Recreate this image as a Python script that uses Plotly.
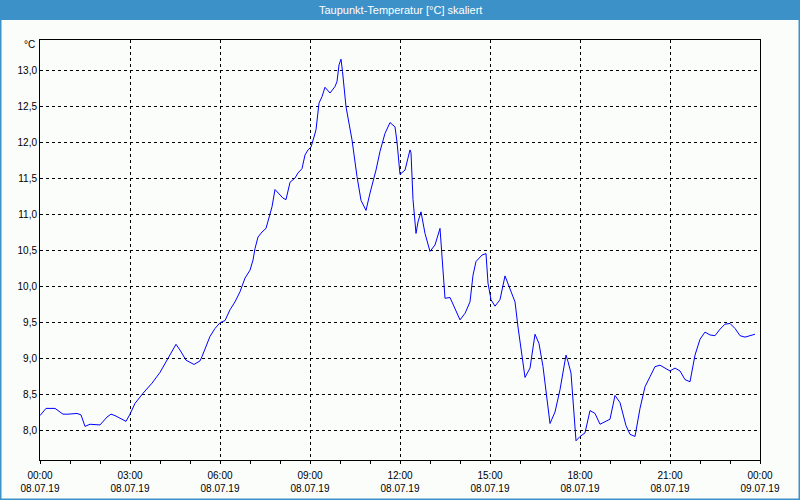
import plotly.graph_objects as go

DAY = "2019-07-08"
times = ["00:00","00:12","00:30","00:46","00:56","01:14","01:22","01:30","01:40","02:00",
         "02:14","02:22","02:30","02:44","02:52","03:00","03:10","03:26","03:44","04:00",
         "04:16","04:32","04:40","04:52","05:08","05:20","05:24","05:34","05:40","05:50",
         "06:00","06:10","06:20","06:30","06:40","06:50","07:00","07:06","07:10","07:16",
         "07:24","07:32","07:38","07:44","07:50","07:56","08:06","08:12","08:20","08:30",
         "08:36","08:44","08:50","08:56","09:02","09:08","09:12","09:18","09:24","09:30",
         "09:40","09:50","09:54","09:58","10:02","10:05","10:12","10:24","10:34","10:42",
         "10:52","11:00","11:12","11:20","11:30","11:40","11:50","11:54","12:00","12:10",
         "12:20","12:22","12:26","12:32","12:36","12:42","12:50","13:00","13:10","13:20",
         "13:24","13:30","13:40","14:00","14:10","14:20","14:26","14:32","14:44","14:52",
         "14:56","15:02","15:10","15:20","15:30","15:40","15:50","15:56","16:04","16:10",
         "16:20","16:30","16:38","16:46","17:00","17:10","17:20","17:32","17:36","17:42",
         "17:52","18:00","18:10","18:20","18:30","18:40","19:00","19:10","19:20","19:32",
         "19:40","19:50","20:00","20:10","20:20","20:30","20:40","20:50","21:00","21:10",
         "21:20","21:30","21:40","21:50","22:00","22:10","22:20","22:30","22:40","22:50",
         "23:00","23:10","23:20","23:30","23:40","23:50"]
values = [8.20,8.30,8.30,8.22,8.22,8.23,8.21,8.05,8.08,8.07,
          8.18,8.22,8.20,8.15,8.12,8.22,8.37,8.51,8.65,8.80,
          9.00,9.19,9.11,8.97,8.91,8.96,9.02,9.20,9.30,9.41,
          9.49,9.52,9.67,9.78,9.92,10.11,10.22,10.36,10.52,10.68,
          10.75,10.80,10.96,11.10,11.34,11.29,11.22,11.20,11.44,11.50,
          11.57,11.63,11.82,11.89,11.93,12.07,12.17,12.54,12.63,12.76,
          12.68,12.77,12.84,13.07,13.15,12.98,12.49,12.03,11.52,11.19,
          11.05,11.29,11.61,11.87,12.12,12.27,12.21,12.00,11.55,11.61,
          11.89,11.85,11.20,10.73,10.89,11.03,10.73,10.48,10.57,10.80,
          10.45,9.83,9.84,9.53,9.62,9.78,10.15,10.34,10.43,10.45,
          10.04,9.81,9.72,9.81,10.14,9.97,9.78,9.43,9.00,8.73,
          8.86,9.33,9.20,8.88,8.09,8.25,8.56,9.04,8.95,8.79,
          7.85,7.91,7.96,8.27,8.23,8.08,8.15,8.48,8.38,8.06,
          7.94,7.91,8.30,8.60,8.74,8.88,8.90,8.86,8.82,8.86,
          8.82,8.70,8.67,9.04,9.26,9.36,9.32,9.31,9.40,9.47,
          9.48,9.41,9.31,9.29,9.31,9.33]

title_text = "Taupunkt-Temperatur [°C] skaliert"
unit_text = "°C"
x_start = "2019-07-08 00:00"
x_end = "2019-07-09 00:00"
y_min, y_max = 7.5833, 13.4167

x = [f"{DAY} {t}" for t in times]

W, H = 800, 500
L, R, T, B = 40, 40, 40, 40
pw, ph = W - L - R, H - T - B
def px(xp):
    return (xp - L) / pw
def py(yp):
    return (H - B - yp) / ph

BLUE = "#3d91c9"
BG = "#fbfdfb"
FONT = "Liberation Sans"

fig = go.Figure()
fig.add_trace(go.Scatter(x=x, y=values, mode="lines",
                         line=dict(color="#0000ff", width=1), hoverinfo="skip"))

fig.update_layout(
    width=W, height=H,
    margin=dict(l=L, r=R, t=T, b=B, autoexpand=False),
    paper_bgcolor=BG, plot_bgcolor=BG,
    showlegend=False,
    separators=",.",
    font=dict(family=FONT, size=10, color="#000000"),
    xaxis=dict(
        type="date", range=[x_start, x_end], automargin=False,
        tick0=x_start, dtick=3 * 3600000,
        tickformat="%H:%M<br>%d.%m.%y",
        ticks="outside", ticklen=3, tickcolor="#000000",
        ticklabelstandoff=3,
        showgrid=True, gridcolor="#000000", griddash="3px,3px", gridwidth=1,
        minor=dict(dtick=3600000, ticks="outside", ticklen=3, tickcolor="#000000", showgrid=False),
        showline=True, linecolor="#000000", linewidth=1, mirror=True,
        zeroline=False, fixedrange=True,
        tickfont=dict(family=FONT, size=10),
    ),
    yaxis=dict(
        range=[y_min, y_max], tick0=8.0, dtick=0.5, tickformat=".1f", automargin=False,
        ticks="", showgrid=True, gridcolor="#000000", griddash="3px,3px", gridwidth=1,
        showline=True, linecolor="#000000", linewidth=1, mirror=True,
        zeroline=False, fixedrange=True,
        tickfont=dict(family=FONT, size=10),
    ),
    shapes=[
        dict(type="rect", xref="paper", yref="paper",
             x0=px(0), x1=px(W), y0=py(20), y1=py(0),
             fillcolor=BLUE, line=dict(width=0), layer="below"),
        dict(type="rect", xref="paper", yref="paper",
             x0=px(0.5), x1=px(W - 0.5), y0=py(H - 0.5), y1=py(0.5),
             fillcolor="rgba(0,0,0,0)", line=dict(color=BLUE, width=2)),
    ],
    annotations=[
        dict(text=title_text, xref="paper", yref="paper", x=0.5, y=py(10),
             xanchor="center", yanchor="middle", showarrow=False,
             font=dict(family=FONT, size=11, color="#ffffff")),
        dict(text=unit_text, xref="paper", yref="paper", x=px(37), y=py(45),
             xanchor="right", yanchor="middle", showarrow=False,
             font=dict(family=FONT, size=10, color="#000000")),
    ],
)

fig.write_html("out.html")
